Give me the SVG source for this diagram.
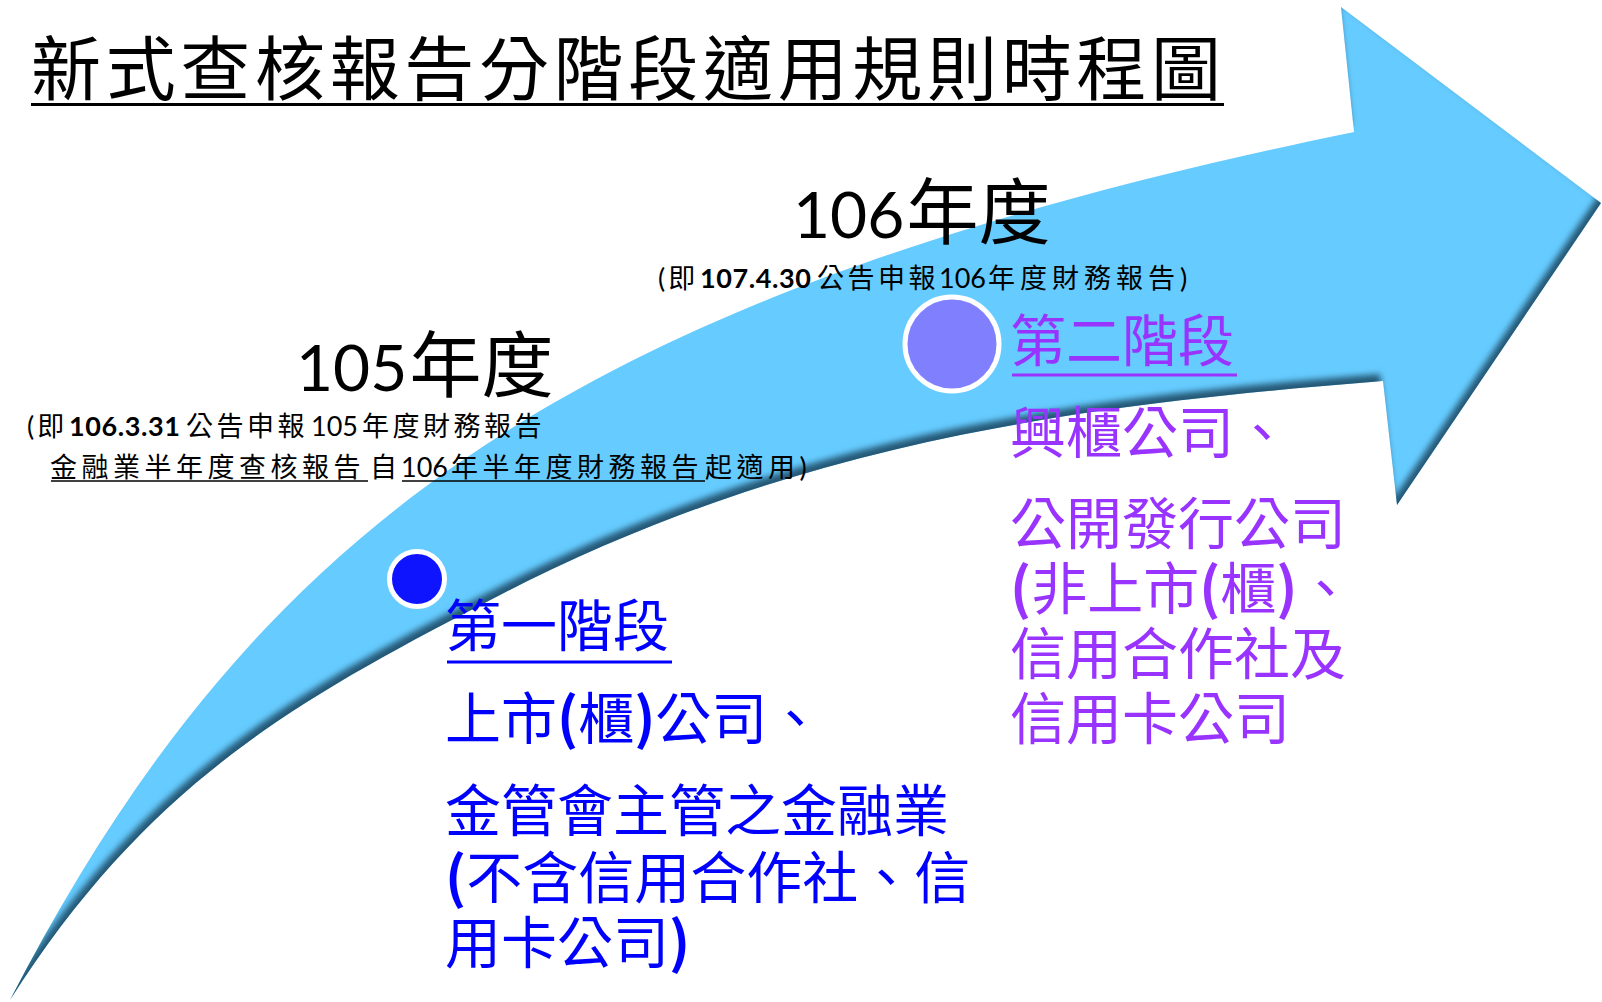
<svg xmlns="http://www.w3.org/2000/svg" width="1602" height="1002" viewBox="0 0 1602 1002">
<style>
.k{font-family:"Noto Sans CJK TC","Noto Sans CJK SC",sans-serif;}
.num{font-family:Lato,"Noto Sans CJK TC",sans-serif;}
.small{font-family:Lato,"Noto Sans CJK TC",sans-serif;font-size:27px;fill:#000;}
.cj{letter-spacing:3.5px;}
.cj2{letter-spacing:4.5px;}
.cj3{letter-spacing:5px;}
.big{font-family:"Noto Sans CJK TC","Noto Sans CJK SC",sans-serif;font-size:56px;}
.blue{fill:#0000FF;}
.purple{fill:#9933FF;}
.p{font-weight:700;}
.b{font-weight:700;letter-spacing:0.6px;}
</style>
<defs>
<filter id="innerShadow" x="-3%" y="-3%" width="106%" height="106%" color-interpolation-filters="sRGB">
<feOffset in="SourceAlpha" dx="-3" dy="-7" result="o"/>
<feGaussianBlur in="o" stdDeviation="3" result="bl"/>
<feComposite in="SourceAlpha" in2="bl" operator="out" result="edge"/>
<feFlood flood-color="#1E4A66" flood-opacity="0.9" result="c"/>
<feComposite in="c" in2="edge" operator="in" result="sh"/>
<feMerge><feMergeNode in="SourceGraphic"/><feMergeNode in="sh"/></feMerge>
</filter>
</defs>
<rect width="1602" height="1002" fill="#FFFFFF"/>

<g id="timeline-arrow">
<path d="M10,1000 C255,527 567,294 1354,132 L1341,7 L1601,203 L1397,505 L1383,381 C1083,405 800,440 500,595 C300,698 150,780 10,1000 Z" fill="#66CCFF" filter="url(#innerShadow)"/>
</g>

<g id="title">
<text class="k" x="31" y="95" font-size="70" textLength="1190" lengthAdjust="spacing" fill="#000">新式查核報告分階段適用規則時程圖</text>
<line x1="31" y1="104.5" x2="1224" y2="104.5" stroke="#000" stroke-width="3"/>
</g>

<g id="year-105">
<text x="296" y="391" fill="#000"><tspan class="num" font-size="64">105</tspan><tspan class="k" font-size="72" dx="2">年度</tspan></text>
<text class="small" y="436"><tspan x="27" style="letter-spacing:3px">(即</tspan><tspan x="69" class="b">106.3.31</tspan><tspan x="186" class="cj">公告申報</tspan><tspan x="311">105</tspan><tspan x="362" class="cj">年度財務報告</tspan></text>
<text class="small" y="477"><tspan x="50" class="cj2">金融業半年度查核報告</tspan><tspan x="370">自</tspan><tspan x="401">106</tspan><tspan x="451" class="cj2">年半年度財務報告</tspan><tspan x="705" class="cj2">起適用</tspan><tspan>)</tspan></text>
<line x1="51" y1="481" x2="368" y2="481" stroke="#000" stroke-width="1.5"/>
<line x1="402" y1="481" x2="705" y2="481" stroke="#000" stroke-width="1.5"/>
</g>

<g id="year-106">
<text x="793" y="238" fill="#000"><tspan class="num" font-size="64">106</tspan><tspan class="k" font-size="72" dx="2">年度</tspan></text>
<text class="small" y="288"><tspan x="658" style="letter-spacing:3px">(即</tspan><tspan x="700" class="b">107.4.30</tspan><tspan x="817" class="cj">公告申報</tspan><tspan x="939">106</tspan><tspan x="988" class="cj3">年度財務報告</tspan><tspan>)</tspan></text>
</g>

<g id="stage1-marker">
<circle cx="417" cy="579" r="27.5" fill="#0F14FF" stroke="#FFFFFF" stroke-width="5"/>
</g>

<g id="stage2-marker">
<circle cx="952" cy="344" r="47" fill="#8080FF" stroke="#FFFFFF" stroke-width="5"/>
</g>

<g id="stage1-label" class="big blue">
<text x="445" y="646">第一階段</text>
<line x1="447" y1="662" x2="672" y2="662" stroke="#0000FF" stroke-width="3"/>
<text x="445" y="739">上市<tspan class="p">(</tspan>櫃<tspan class="p">)</tspan>公司、</text>
<text x="445" y="831">金管會主管之金融業</text>
<text x="445" y="898"><tspan class="p">(</tspan>不含信用合作社、信</text>
<text x="445" y="963">用卡公司<tspan class="p">)</tspan></text>
</g>

<g id="stage2-label" class="big purple">
<text x="1010" y="361">第二階段</text>
<line x1="1012" y1="375" x2="1237" y2="375" stroke="#9933FF" stroke-width="3"/>
<text x="1010" y="453">興櫃公司、</text>
<text x="1010" y="544">公開發行公司</text>
<text x="1010" y="609"><tspan class="p">(</tspan>非上市<tspan class="p">(</tspan>櫃<tspan class="p">)</tspan>、</text>
<text x="1010" y="674">信用合作社及</text>
<text x="1010" y="739">信用卡公司</text>
</g>
</svg>
